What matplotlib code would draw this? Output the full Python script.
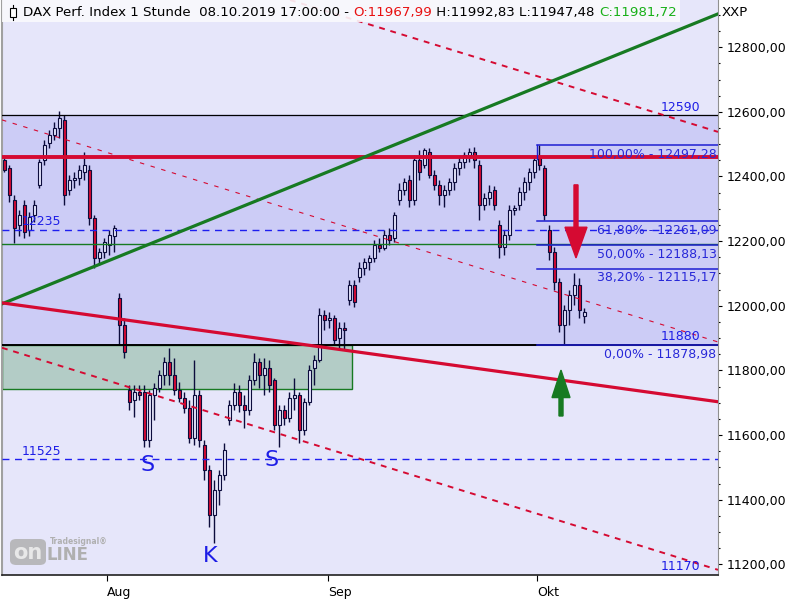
import matplotlib
matplotlib.use("Agg")
import matplotlib.pyplot as plt
from matplotlib.patches import Rectangle, FancyArrow, FancyBboxPatch
from matplotlib.lines import Line2D

# DAX 1h chart, bars thinned out (roughly half a trading day per candle)
opens = [12451, 12426, 12327, 12250, 12312, 12235, 12281, 12374, 12451, 12504,
         12529, 12550, 12575, 12358, 12389, 12395, 12414, 12420, 12272, 12148,
         12167, 12188, 12216, 12024, 11941, 11740, 11709, 11734, 11734, 11585,
         11724, 11746, 11786, 11826, 11786, 11740, 11715, 11684, 11591, 11724,
         11570, 11492, 11353, 11430, 11477, 11647, 11693, 11734, 11693, 11678,
         11771, 11826, 11786, 11808, 11771, 11631, 11678, 11653, 11715, 11724,
         11616, 11703, 11808, 11833, 11972, 11956, 11962, 11901, 11931, 12018,
         12064, 12089, 12117, 12136, 12148, 12188, 12179, 12219, 12210, 12327,
         12358, 12389, 12327, 12451, 12436, 12476, 12405, 12374, 12343, 12358,
         12383, 12426, 12445, 12467, 12476, 12436, 12312, 12334, 12358, 12250,
         12182, 12219, 12296, 12312, 12352, 12383, 12414, 12457, 12426, 12235,
         12167, 12074, 11941, 11987, 12034, 12064, 11967.99]
highs = [12467, 12436, 12343, 12296, 12327, 12290, 12327, 12455, 12513, 12544,
         12569, 12603, 12590, 12405, 12414, 12436, 12476, 12436, 12281, 12179,
         12210, 12235, 12250, 12040, 11962, 11755, 11755, 11755, 11755, 11740,
         11762, 11802, 11842, 11870, 11839, 11765, 11734, 11709, 11833, 11740,
         11585, 11508, 11461, 11492, 11576, 11709, 11762, 11755, 11724, 11786,
         11854, 11839, 11839, 11833, 11777, 11693, 11693, 11734, 11777, 11734,
         11715, 11817, 11848, 11993, 11987, 11981, 11972, 11950, 11950, 12080,
         12080, 12136, 12148, 12157, 12204, 12210, 12235, 12241, 12290, 12380,
         12395, 12405, 12467, 12482, 12488, 12488, 12420, 12389, 12374, 12395,
         12442, 12460, 12476, 12488, 12491, 12451, 12349, 12374, 12371, 12266,
         12235, 12312, 12312, 12368, 12399, 12426, 12467, 12497.28, 12436, 12250,
         12182, 12086, 12003, 12049, 12102, 12086, 11992.83]
lows = [12414, 12321, 12194, 12216, 12210, 12216, 12259, 12365, 12436, 12488,
        12513, 12519, 12312, 12343, 12365, 12374, 12389, 12250, 12117, 12126,
        12148, 12157, 12167, 11879, 11839, 11678, 11656, 11709, 11563, 11563,
        11647, 11734, 11755, 11755, 11724, 11703, 11669, 11576, 11570, 11563,
        11461, 11316, 11267, 11384, 11461, 11631, 11678, 11672, 11622, 11662,
        11755, 11746, 11724, 11734, 11616, 11563, 11631, 11641, 11678, 11576,
        11601, 11693, 11755, 11826, 11925, 11931, 11879, 11870, 11864, 12003,
        11996, 12074, 12095, 12111, 12136, 12167, 12173, 12188, 12197, 12312,
        12343, 12306, 12312, 12389, 12426, 12395, 12358, 12312, 12306, 12343,
        12358, 12405, 12426, 12445, 12426, 12266, 12296, 12312, 12296, 12148,
        12157, 12204, 12281, 12296, 12327, 12358, 12395, 12420, 12266, 12142,
        12049, 11919, 11878.98, 11941, 12003, 11962, 11947.48]
closes = [12420, 12343, 12241, 12281, 12228, 12275, 12312, 12445, 12498, 12529,
          12550, 12581, 12343, 12389, 12395, 12420, 12436, 12272, 12148, 12167,
          12197, 12219, 12241, 11941, 11857, 11703, 11734, 11724, 11585, 11724,
          11746, 11786, 11826, 11786, 11740, 11715, 11684, 11591, 11724, 11585,
          11492, 11353, 11430, 11477, 11555, 11693, 11734, 11693, 11678, 11771,
          11826, 11786, 11808, 11755, 11631, 11678, 11653, 11715, 11724, 11616,
          11703, 11802, 11833, 11972, 11956, 11962, 11894, 11931, 11925, 12064,
          12012, 12117, 12136, 12148, 12188, 12179, 12219, 12204, 12281, 12358,
          12383, 12327, 12451, 12414, 12482, 12405, 12374, 12343, 12358, 12383,
          12426, 12445, 12467, 12476, 12451, 12312, 12334, 12352, 12312, 12182,
          12219, 12296, 12303, 12352, 12383, 12414, 12451, 12436, 12281, 12167,
          12074, 11941, 11987, 12034, 12064, 11987, 11981.72]

month_pos = [20.6, 64.8, 106.6]
month_labels = ["Aug", "Sep", "Okt"]

# horizontal levels
band_top = 12590
band_bottom = 11880
red_level = 12460
blue_level = 12235
green_level = 12192
blue_low = 11525
bottom_level = 11170
box_bottom = 11743
box_right = 69.6

# fibonacci retracement
fib_start = 106.6
fib_high = 12497.28
fib_low = 11878.98
fib_ratios = [1.0, 0.618, 0.5, 0.382, 0.0]

# trend lines (x0, y0, x1, y1)
green_trend = (-0.4, 12006, 142.8, 12903)
red_trend = (-0.4, 12009, 142.8, 11703)
red_dash_top = (57.2, 12946, 142.8, 12538)
red_dash_mid = (-0.4, 12575, 142.8, 11888)
red_dash_low = (-0.4, 11870, 142.8, 11183)

pattern_labels = ["S", "K", "S"]
pattern_x = [28.8, 41.2, 53.6]
pattern_y = [11508, 11226, 11523]


def de(v):
    return "{:.2f}".format(v).replace(".", ",")


RED = "#D50A32"
GREEN = "#177A22"
NAVY = "#0C0C3C"
BLUE = "#1E1EE6"

fig = plt.figure(figsize=(8, 6), dpi=100, facecolor="white")
ax = fig.add_axes([2 / 800, 25 / 600, 716 / 800, 575 / 600])
ax.set_facecolor("#E6E6FA")
ax.set_xlim(-0.4, 142.8)
ax.set_ylim(11167, 12946)

ax.axhspan(band_bottom, band_top, color="#CCCCF6", zorder=0.5)
ax.add_patch(Rectangle((-0.4, box_bottom), box_right + 0.4, band_bottom - box_bottom,
                       facecolor="#B3CCC6", edgecolor=GREEN, lw=1, zorder=0.6))

# candles
for i in range(len(opens)):
    o, h, l, c = opens[i], highs[i], lows[i], closes[i]
    ax.vlines(i, l, h, color=NAVY, lw=1, zorder=2)
    fc = RED if c < o else "#E4E4FC"
    ax.add_patch(Rectangle((i - 0.3, min(o, c)), 0.6, max(abs(c - o), 2),
                           facecolor=fc, edgecolor=NAVY, lw=0.8, zorder=2.1))

# levels
ax.axhline(band_top, color="black", lw=0.9, zorder=3)
ax.axhline(band_bottom, color="black", lw=1.4, zorder=3)
ax.axhline(red_level, color=RED, lw=2.8, zorder=3)
ax.axhline(blue_level, color="#1E1EF0", lw=1, dashes=(5, 4), zorder=3)
ax.axhline(green_level, color=GREEN, lw=1, zorder=3)
ax.axhline(blue_low, color="#1E1EF0", lw=1, dashes=(5, 4), zorder=3)

ax.plot(green_trend[::2], green_trend[1::2], color=GREEN, lw=2.3, zorder=3.5)
ax.plot(red_trend[::2], red_trend[1::2], color=RED, lw=2.3, zorder=3.5)
ax.plot(red_dash_top[::2], red_dash_top[1::2], color=RED, lw=1.4, dashes=(3, 3), zorder=3)
ax.plot(red_dash_mid[::2], red_dash_mid[1::2], color=RED, lw=0.8, dashes=(4, 6), zorder=3)
ax.plot(red_dash_low[::2], red_dash_low[1::2], color=RED, lw=1.4, dashes=(3, 3), zorder=3)

# fibonacci
ax.plot([fib_start, fib_start], [fib_high, red_level - 5], color="#1E1ED2", lw=1, zorder=3)
for r in fib_ratios:
    v = fib_low + r * (fib_high - fib_low)
    ax.plot([fib_start, 142.8], [v, v], color="#1E1ED2", lw=1.1, zorder=3)
    ax.annotate("{}% - {}".format(de(r * 100), de(v)), xy=(142.8, v), xytext=(-1, -2),
                textcoords="offset points", ha="right", va="top", fontsize=9,
                color="#2828D8", zorder=4)

# level labels
lab_kw = dict(fontsize=9, color=BLUE, zorder=4, textcoords="offset points", va="bottom")
ax.annotate(str(band_top), xy=(139.2, band_top), xytext=(0, 1), ha="right", **lab_kw)
ax.annotate(str(band_bottom), xy=(139.2, band_bottom), xytext=(0, 1), ha="right", **lab_kw)
ax.annotate(str(bottom_level), xy=(139.2, bottom_level), xytext=(0, 0.5), ha="right", **lab_kw)
ax.annotate(str(blue_level), xy=(3.6, blue_level), xytext=(0, 1), ha="left", **lab_kw)
ax.annotate(str(blue_low), xy=(3.6, blue_low), xytext=(0, 1), ha="left", **lab_kw)

for s, x, y in zip(pattern_labels, pattern_x, pattern_y):
    ax.text(x, y, s, fontsize=16, color=BLUE, ha="center", va="center", zorder=4)

# arrows
ax.add_patch(FancyArrow(114.4, 12374, 0, 12148 - 12374, width=0.8, head_width=4.4,
                        head_length=95, length_includes_head=True, color=RED, zorder=4))
ax.add_patch(FancyArrow(111.4, 11659, 0, 11801 - 11659, width=0.8, head_width=3.6,
                        head_length=85, length_includes_head=True, color=GREEN, zorder=4))

# axes
ax.yaxis.tick_right()
ax.set_yticks(range(11200, 12801, 200))
ax.set_yticklabels([de(v) for v in range(11200, 12801, 200)])
ax.set_yticks(range(11200, 12901, 50), minor=True)
ax.tick_params(axis="y", which="major", length=3, width=0.8, pad=3, labelsize=9)
ax.tick_params(axis="y", which="minor", length=1.5, width=0.8)
ax.set_xticks(month_pos)
ax.set_xticklabels(month_labels)
for t in ax.get_xticklabels():
    t.set_ha("left")
ax.tick_params(axis="x", length=4, width=0.8, pad=4, labelsize=9)
ax.spines["top"].set_visible(False)
ax.spines["left"].set_color("#A0A0A0")
ax.spines["left"].set_linewidth(1.5)
ax.spines["right"].set_color("#909090")
ax.spines["bottom"].set_color("#202020")
ax.spines["bottom"].set_linewidth(1.2)

# title box
ax.add_patch(Rectangle((0, 1 - 22 / 575), 678 / 716, 22 / 575, transform=ax.transAxes,
                       facecolor="#FAFAFD", edgecolor="none", alpha=0.9, zorder=9, clip_on=False))
fig.add_artist(Rectangle((10 / 800, 1 - 17 / 600), 6 / 800, 9 / 600, facecolor="white",
                         edgecolor="black", lw=0.8, zorder=11))
fig.add_artist(Line2D([13 / 800, 13 / 800], [1 - 20 / 600, 1 - 5 / 600], color="black",
                      lw=0.8, zorder=10))
ty = 1 - 16 / 575
tfs = 9.6
t0 = ax.text(21 / 716, ty, "DAX Perf. Index 1 Stunde  08.10.2019 17:00:00 - ",
             transform=ax.transAxes, fontsize=tfs, va="baseline", zorder=10)
t1 = ax.annotate("O:" + de(opens[-1]), xy=(1, 0), xycoords=t0, va="bottom", fontsize=tfs,
                 color="#E81010", zorder=10)
t2 = ax.annotate(" H:{} L:{} ".format(de(highs[-1]), de(lows[-1])), xy=(1, 0), xycoords=t1,
                 va="bottom", fontsize=tfs, color="black", zorder=10)
ax.annotate("C:" + de(closes[-1]), xy=(1, 0), xycoords=t2, va="bottom", fontsize=tfs,
            color="#18B018", zorder=10)
fig.text(722 / 800, 1 - 13 / 600, "XXP", fontsize=9.5, va="center")

# watermark
fig.add_artist(FancyBboxPatch((10 / 800, 1 - 565 / 600), 36 / 800, 26 / 600,
                              boxstyle="round,pad=0,rounding_size=0.008", fc="#B0B0B0",
                              ec="none", alpha=0.85, zorder=8))
fig.text(28 / 800, 1 - 553 / 600, "on", color="#E8E8E8", fontsize=15, weight="bold",
         ha="center", va="center", zorder=9)
fig.text(47 / 800, 1 - 555 / 600, "LINE", color="#B0B0B0", fontsize=12, weight="bold",
         ha="left", va="center", zorder=9)
fig.text(50 / 800, 1 - 541 / 600, "Tradesignal®", color="#B0B0B0", fontsize=5.5,
         weight="bold", ha="left", va="center", zorder=9)

fig.savefig("out.png", dpi=100)
